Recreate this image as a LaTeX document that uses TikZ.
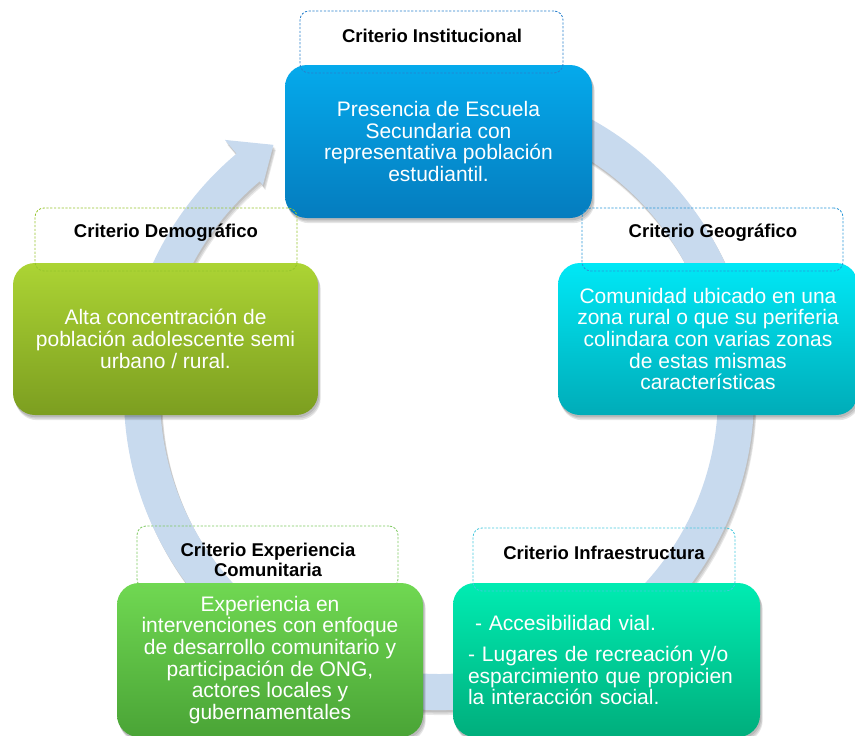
\documentclass[tikz,border=0pt]{standalone}
\usepackage{fontspec}
\setmainfont{Liberation Sans}
\pgfdeclarelayer{ringl}
\pgfdeclarelayer{shadl}
\pgfsetlayers{ringl,shadl,main}
\definecolor{ringcol}{RGB}{200,218,238}
\definecolor{topT}{RGB}{5,170,236}
\definecolor{topB}{RGB}{5,124,190}
\definecolor{rgtT}{RGB}{0,232,246}
\definecolor{rgtB}{RGB}{0,172,184}
\definecolor{lftT}{RGB}{172,212,52}
\definecolor{lftB}{RGB}{124,158,32}
\definecolor{blT}{RGB}{112,216,82}
\definecolor{blB}{RGB}{74,164,54}
\definecolor{brT}{RGB}{0,236,178}
\definecolor{brB}{RGB}{0,174,124}
\definecolor{dTop}{RGB}{40,128,205}
\definecolor{dRgt}{RGB}{40,150,215}
\definecolor{dLft}{RGB}{150,196,45}
\definecolor{dBl}{RGB}{125,200,95}
\definecolor{dBr}{RGB}{70,200,222}
\tikzset{
  bodybox/.style={rounded corners=22pt, inner sep=0pt, text=white, align=center,
    font=\fontsize{21}{21.7}\selectfont},
  labbox/.style={draw=#1, dash pattern=on 2.2pt off 1.6pt, line width=0.8pt,
    rounded corners=9pt, inner sep=0pt},
  labtext/.style={font=\fontsize{18.5}{20}\selectfont\bfseries, align=center,
    inner sep=0pt, text=black},
}
\newcommand\myboxshadow[1]{%
  \begin{pgfonlayer}{shadl}
  \foreach \dx/\dy in {1/2,2/3.5,2.5/5}{
    \fill[black, opacity=.1, rounded corners=22pt]
      ([shift={(\dx pt,-\dy pt)}]#1.south west) rectangle ([shift={(\dx pt,-\dy pt)}]#1.north east);
  }
  \end{pgfonlayer}}
\newcommand\myringpath{(70:315) arc[start angle=70, end angle=-230, radius=315]
  -- (130:333) -- (123.5:300) -- (130:274) -- (-230:279)
  arc[start angle=-230, end angle=70, radius=279] -- cycle}
\begin{document}
\begin{tikzpicture}[x=1pt, y=-1pt]
\useasboundingbox (0,0) rectangle (855,736);
% ring arrow
\begin{pgfonlayer}{ringl}
\begin{scope}[shift={(439,395)}, y=1pt]
  \foreach \dx/\dy in {1/2,2/3.5,2.5/5}{
    \fill[black, opacity=.09, xshift=\dx pt, yshift=-\dy pt] \myringpath;
  }
  \fill[ringcol] \myringpath;
\end{scope}
\end{pgfonlayer}
% boxes
\node[bodybox, minimum width=307pt, minimum height=153pt, top color=topT, bottom color=topB]
  (inst) at (438.5,141.5) {Presencia de Escuela\\Secundaria con\\representativa población\\estudiantil.};
\node[bodybox, minimum width=300pt, minimum height=152pt, top color=rgtT, bottom color=rgtB]
  (geo) at (708,339) {Comunidad ubicado en una\\zona rural o que su periferia\\colindara con varias zonas\\de estas mismas\\características};
\node[bodybox, minimum width=305pt, minimum height=152pt, top color=lftT, bottom color=lftB]
  (demo) at (165.5,339) {Alta concentración de\\población adolescente semi\\urbano / rural.};
\node[bodybox, minimum width=306pt, minimum height=154pt, top color=blT, bottom color=blB]
  (expe) at (270,660) {Experiencia en\\intervenciones con enfoque\\de desarrollo comunitario y\\participación de ONG,\\actores locales y\\gubernamentales};
\node[bodybox, minimum width=307pt, minimum height=154pt, top color=brT, bottom color=brB,
  text width=277pt, align=left]
  (infra) at (606.5,660) {\ - Accesibilidad vial.\\[9.3pt]- Lugares de recreación y/o\\esparcimiento que propicien\\la interacción social.};
\myboxshadow{inst}
\myboxshadow{geo}
\myboxshadow{demo}
\myboxshadow{expe}
\myboxshadow{infra}
% dashed label boxes
\node[labbox=dTop, minimum width=263pt, minimum height=62pt] (linst) at (431.5,42) {};
\node[labbox=dRgt, minimum width=261pt, minimum height=63pt] (lgeo) at (712.5,239.5) {};
\node[labbox=dLft, minimum width=262pt, minimum height=63pt] (ldemo) at (166,239.5) {};
\node[labbox=dBl, minimum width=261pt, minimum height=62pt] (lexpe) at (267.5,557) {};
\node[labbox=dBr, minimum width=262pt, minimum height=63pt] (linfra) at (604,559.5) {};
\node[labtext] (tinst) at (432,36) {Criterio Institucional};
\node[labtext] (tgeo) at (713,233) {Criterio Geográfico};
\node[labtext] (tdemo) at (166,233) {Criterio Demográfico};
\node[labtext] (texpe) at (268,560) {Criterio Experiencia\\Comunitaria};
\node[labtext] (tinfra) at (604,553) {Criterio Infraestructura};
\end{tikzpicture}
\end{document}
